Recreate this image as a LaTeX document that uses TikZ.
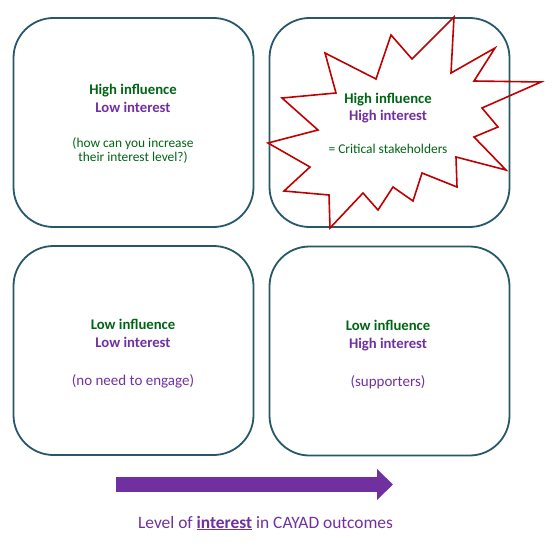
\documentclass[tikz,border=0pt]{standalone}
\usepackage{xcolor}
\usepackage{fontspec}
\setmainfont{Carlito}
\usepackage{tikz}
\usetikzlibrary{arrows.meta}
\usetikzlibrary{positioning}
\definecolor{boxteal}{RGB}{38,88,104}
\definecolor{infgreen}{RGB}{0,100,20}
\definecolor{intpurple}{RGB}{112,48,160}
\definecolor{starred}{RGB}{192,0,0}

\begin{document}
\begin{tikzpicture}[x=1pt, y=-1pt]
\tikzset{QuadStyle/.style = {draw=boxteal, line width=1.8pt, rounded corners=40pt, minimum width=240pt, minimum height=209pt}}
\tikzset{HeadStyle/.style = {anchor=base, inner sep=0pt, font=\fontsize{14.7}{17}\selectfont\bfseries}}
\tikzset{NoteStyle/.style = {anchor=base, inner sep=0pt, font=\fontsize{13.4}{15}\selectfont}}
\useasboundingbox (0,0) rectangle (557,559);
  % the four quadrants
  \node[QuadStyle] (hilo) at (133.5,122.5) {};
  \node[QuadStyle] (hihi) at (389.5,122.5) {};
  \node[QuadStyle] (lolo) at (133.5,350.5) {};
  \node[QuadStyle] (lohi) at (389.5,351) {};
  % burst
  \draw[starred, line width=1.6pt, line join=miter]
    (454,17) -- (451,73) -- (495,48) -- (474,81) -- (541,82) -- (482,108)
    -- (498,127) -- (474,137) -- (506,170) -- (456,157) -- (457,187)
    -- (422,173) -- (413,201) -- (393,187) -- (378,210) -- (363,193)
    -- (330,228) -- (329,195) -- (284,191) -- (310,167) -- (268,143)
    -- (318,130) -- (282,98) -- (336,93) -- (325,53) -- (376,79)
    -- (391,35) -- (412,59) -- cycle;
  % texts
  \node[HeadStyle, infgreen] (hiloA) at (133,95) {High influence};
  \node[HeadStyle, intpurple] (hiloB) at (133,113) {Low interest};
  \node[NoteStyle, infgreen] (hiloC) at (133,147) {(how can you increase};
  \node[NoteStyle, infgreen] (hiloD) at (133,161) {their interest level?)};
  \node[HeadStyle, infgreen] (hihiA) at (388,103) {High influence};
  \node[HeadStyle, intpurple] (hihiB) at (388,121) {High interest};
  \node[NoteStyle, infgreen] (hihiC) at (388,153) {= Critical stakeholders};
  \node[HeadStyle, infgreen] (loloA) at (133,329) {Low influence};
  \node[HeadStyle, intpurple] (loloB) at (133,347) {Low interest};
  \node[NoteStyle, intpurple, font=\fontsize{15}{17}\selectfont] (loloC) at (133,385) {(no need to engage)};
  \node[HeadStyle, infgreen] (lohiA) at (388,330) {Low influence};
  \node[HeadStyle, intpurple] (lohiB) at (388,348) {High interest};
  \node[NoteStyle, intpurple, font=\fontsize{15}{17}\selectfont] (lohiC) at (388,386) {(supporters)};
  % axis arrow
  \coordinate (arrS) at (116,484.5);
  \coordinate (arrE) at (393,484.5);
  \draw[intpurple, line width=15pt, -{Triangle[length=16pt, width=30pt]}] (arrS) -- (arrE);
  \node[anchor=base, inner sep=0pt, intpurple, font=\fontsize{17.4}{20}\selectfont] (axis) at (265.5,528)
    {Level of \textbf{\underline{interest}} in CAYAD outcomes};
\end{tikzpicture}
\end{document}
